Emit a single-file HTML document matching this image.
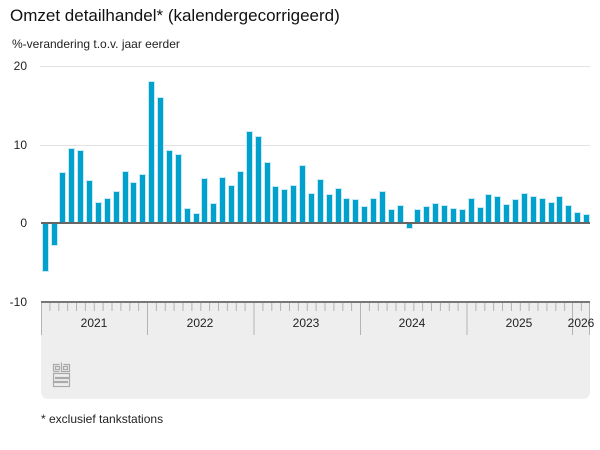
<!DOCTYPE html>
<html><head><meta charset="utf-8"><style>
html,body{margin:0;padding:0;background:#fff;width:600px;height:450px;overflow:hidden;font-family:"Liberation Sans",Arial,sans-serif;color:#222}
.abs{position:absolute}
#title{left:10px;top:6px;font-size:17px;color:#111}
#sub{left:12px;top:37px;font-size:12px;color:#222}
.yl{position:absolute;right:573px;font-size:12px;color:#222;line-height:12px}
.grid{position:absolute;left:40px;width:550px;height:1px;background:#e2e2e2}
#cols{position:absolute;left:41px;top:66px;width:550.25px;height:236px;display:flex}
.c{flex:1;position:relative}
.c i{position:absolute;left:0.7px;width:7px;background:#00a1cd;border:1px solid #c6e9f4;box-sizing:border-box}
#panel{position:absolute;left:41px;top:302px;width:549px;height:97px;background:#eeeeee;border-radius:0 0 7px 7px}
.xl{position:absolute;top:316px;font-size:12px;color:#222;width:60px;text-align:center}
</style></head><body>
<div id="title" class="abs">Omzet detailhandel* (kalendergecorrigeerd)</div>
<div id="sub" class="abs">%-verandering t.o.v. jaar eerder</div>
<div class="yl" style="top:60px">20</div>
<div class="yl" style="top:139px">10</div>
<div class="yl" style="top:217px">0</div>
<div class="yl" style="top:296px">-10</div>
<div class="grid" style="top:66px"></div>
<div class="grid" style="top:145px"></div>
<div id="panel"></div>
<svg class="abs" style="left:0;top:0" width="600" height="450">
<g stroke="#b4b4b4" stroke-width="1">
<path d="M49.9 302v9M58.8 302v9M67.6 302v9M76.5 302v9M85.4 302v9M94.3 302v9M103.1 302v9M112 302v9M120.9 302v9M129.8 302v9M138.6 302v9
M156.4 302v9M165.3 302v9M174.1 302v9M183 302v9M191.9 302v9M200.8 302v9M209.6 302v9M218.5 302v9M227.4 302v9M236.3 302v9M245.1 302v9
M262.9 302v9M271.8 302v9M280.6 302v9M289.5 302v9M298.4 302v9M307.3 302v9M316.1 302v9M325 302v9M333.9 302v9M342.8 302v9M351.6 302v9
M369.4 302v9M378.3 302v9M387.1 302v9M396 302v9M404.9 302v9M413.8 302v9M422.6 302v9M431.5 302v9M440.4 302v9M449.3 302v9M458.1 302v9
M475.9 302v9M484.8 302v9M493.6 302v9M502.5 302v9M511.4 302v9M520.3 302v9M529.1 302v9M538 302v9M546.9 302v9M555.8 302v9M564.6 302v9
M581.4 302v9"/>
<path d="M41.5 302v33M147.5 302v33M254 302v33M360.5 302v33M467 302v33M572.5 302v33M589.5 302v33"/>
</g>
<g fill="none" stroke="#aaa" stroke-width="1.2">
<path d="M53.5 371.5v-7h6M53.5 371.5h6M55.5 366.5h4v3h-4z"/>
<path d="M61.5 362.5v9h8v-7h-6M63.5 366.5h4v3h-4z"/>
<path d="M53.5 373.5h16v4h-14v1h14v8h-16v-4h14v-1h-14z"/>
</g>
</svg>
<div class="abs" style="left:41px;top:301px;width:549px;height:2px;background:#777"></div>
<div class="xl" style="left:64px">2021</div>
<div class="xl" style="left:170px">2022</div>
<div class="xl" style="left:276px">2023</div>
<div class="xl" style="left:382px">2024</div>
<div class="xl" style="left:489px">2025</div>
<div class="xl" style="left:551px">2026</div>
<div id="cols">
<div class="c"><i style="top:157px;height:49px"></i></div>
<div class="c"><i style="top:157px;height:23px"></i></div>
<div class="c"><i style="bottom:79px;height:51px"></i></div>
<div class="c"><i style="bottom:79px;height:75px"></i></div>
<div class="c"><i style="bottom:79px;height:73px"></i></div>
<div class="c"><i style="bottom:79px;height:43px"></i></div>
<div class="c"><i style="bottom:79px;height:21px"></i></div>
<div class="c"><i style="bottom:79px;height:25px"></i></div>
<div class="c"><i style="bottom:79px;height:32px"></i></div>
<div class="c"><i style="bottom:79px;height:52px"></i></div>
<div class="c"><i style="bottom:79px;height:41px"></i></div>
<div class="c"><i style="bottom:79px;height:49px"></i></div>
<div class="c"><i style="bottom:79px;height:142px"></i></div>
<div class="c"><i style="bottom:79px;height:126px"></i></div>
<div class="c"><i style="bottom:79px;height:73px"></i></div>
<div class="c"><i style="bottom:79px;height:69px"></i></div>
<div class="c"><i style="bottom:79px;height:15px"></i></div>
<div class="c"><i style="bottom:79px;height:10px"></i></div>
<div class="c"><i style="bottom:79px;height:45px"></i></div>
<div class="c"><i style="bottom:79px;height:20px"></i></div>
<div class="c"><i style="bottom:79px;height:46px"></i></div>
<div class="c"><i style="bottom:79px;height:38px"></i></div>
<div class="c"><i style="bottom:79px;height:52px"></i></div>
<div class="c"><i style="bottom:79px;height:92px"></i></div>
<div class="c"><i style="bottom:79px;height:87px"></i></div>
<div class="c"><i style="bottom:79px;height:61px"></i></div>
<div class="c"><i style="bottom:79px;height:37px"></i></div>
<div class="c"><i style="bottom:79px;height:34px"></i></div>
<div class="c"><i style="bottom:79px;height:38px"></i></div>
<div class="c"><i style="bottom:79px;height:58px"></i></div>
<div class="c"><i style="bottom:79px;height:30px"></i></div>
<div class="c"><i style="bottom:79px;height:44px"></i></div>
<div class="c"><i style="bottom:79px;height:29px"></i></div>
<div class="c"><i style="bottom:79px;height:35px"></i></div>
<div class="c"><i style="bottom:79px;height:25px"></i></div>
<div class="c"><i style="bottom:79px;height:24px"></i></div>
<div class="c"><i style="bottom:79px;height:17px"></i></div>
<div class="c"><i style="bottom:79px;height:25px"></i></div>
<div class="c"><i style="bottom:79px;height:32px"></i></div>
<div class="c"><i style="bottom:79px;height:14px"></i></div>
<div class="c"><i style="bottom:79px;height:18px"></i></div>
<div class="c"><i style="top:157px;height:6px"></i></div>
<div class="c"><i style="bottom:79px;height:14px"></i></div>
<div class="c"><i style="bottom:79px;height:17px"></i></div>
<div class="c"><i style="bottom:79px;height:20px"></i></div>
<div class="c"><i style="bottom:79px;height:18px"></i></div>
<div class="c"><i style="bottom:79px;height:15px"></i></div>
<div class="c"><i style="bottom:79px;height:14px"></i></div>
<div class="c"><i style="bottom:79px;height:25px"></i></div>
<div class="c"><i style="bottom:79px;height:16px"></i></div>
<div class="c"><i style="bottom:79px;height:29px"></i></div>
<div class="c"><i style="bottom:79px;height:27px"></i></div>
<div class="c"><i style="bottom:79px;height:19px"></i></div>
<div class="c"><i style="bottom:79px;height:24px"></i></div>
<div class="c"><i style="bottom:79px;height:30px"></i></div>
<div class="c"><i style="bottom:79px;height:27px"></i></div>
<div class="c"><i style="bottom:79px;height:25px"></i></div>
<div class="c"><i style="bottom:79px;height:21px"></i></div>
<div class="c"><i style="bottom:79px;height:27px"></i></div>
<div class="c"><i style="bottom:79px;height:18px"></i></div>
<div class="c"><i style="bottom:79px;height:11px"></i></div>
<div class="c"><i style="bottom:79px;height:9px"></i></div>
</div>
<div class="abs" style="left:41px;top:222px;width:549px;height:2px;background:#666"></div>
<div class="abs" style="left:41px;top:412px;font-size:12px;color:#222">* exclusief tankstations</div>
</body></html>
